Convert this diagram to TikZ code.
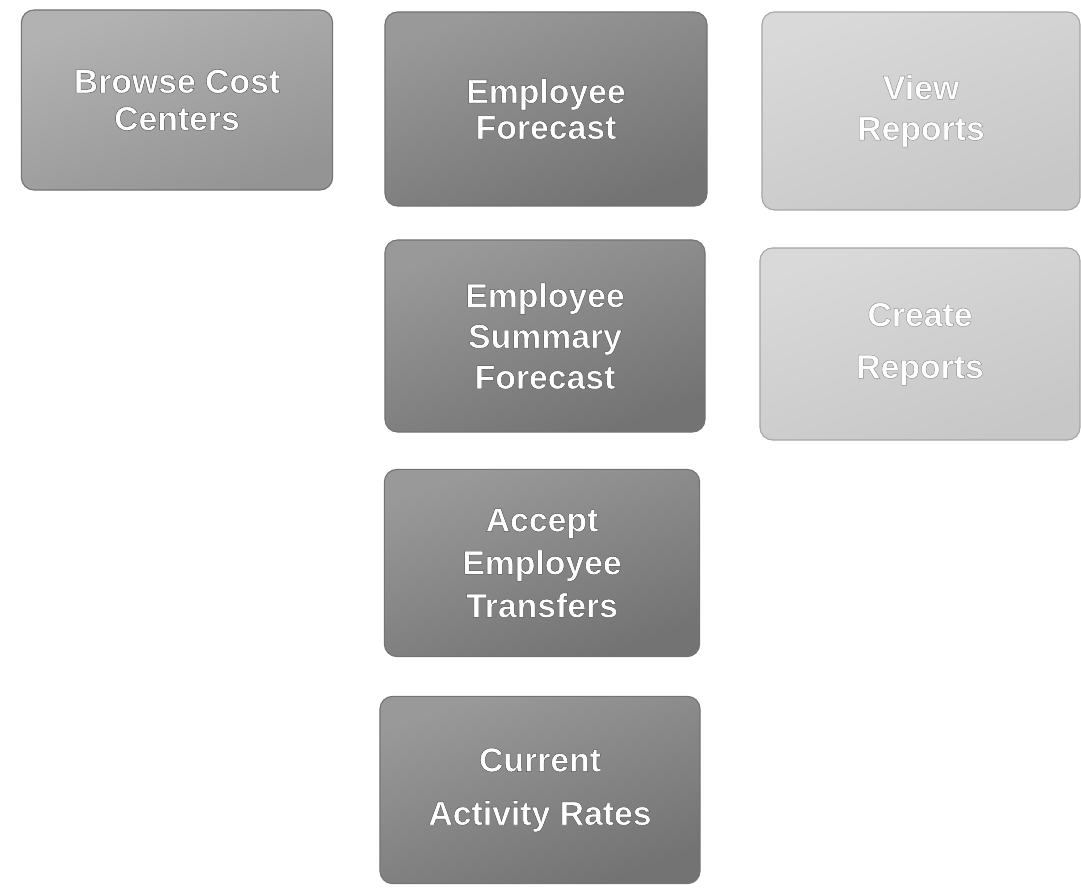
\documentclass[tikz,border=0pt]{standalone}
\usepackage{fontspec}
\setmainfont{Liberation Sans}
\usepackage{tikz}
\usetikzlibrary{positioning}
\tikzstyle{task} = [rounded corners=9pt,draw=black!55,line width=0.8pt,
  align=center,inner sep=0pt,text=white]
\tikzset{pitch/.style={font=\bfseries\fontsize{24}{#1}\selectfont}}
\tikzstyle{dark} = [task,top color=black!40,bottom color=black!55,shading angle=20]
\tikzstyle{mid} = [task,top color=black!30,bottom color=black!42,shading angle=20]
\tikzstyle{pale} = [task,top color=black!15,bottom color=black!22,shading angle=20,draw=black!35]
% outlined white letters (fill + stroke)
\newcommand{\lbl}[2][0.3]{\special{pdf:literal direct 2 Tr 0.3 w #1 G}#2\special{pdf:literal direct 0 Tr}}

\begin{document}
\begin{tikzpicture}[x=0.025cm,y=-0.025cm]
    \useasboundingbox (0,0) rectangle (1081,888);
    \node[mid,pitch=26.5,minimum width=7.78cm,minimum height=4.5cm] (browse) at (177,100) {\lbl{Browse Cost\\Centers}};
    \node[dark,pitch=25.5,minimum width=8.05cm,minimum height=4.85cm] (empfc) at (546,109) {\lbl{Employee\\Forecast}};
    \node[pale,pitch=29,minimum width=7.95cm,minimum height=4.95cm] (view) at (921,111) {\lbl[0.55]{View\\Reports}};
    \node[dark,pitch=29,minimum width=8cm,minimum height=4.8cm] (summary) at (545,336) {\lbl{Employee\\Summary\\Forecast}};
    \node[pale,pitch=37,minimum width=8cm,minimum height=4.8cm] (create) at (920,344) {\lbl[0.55]{Create\\Reports}};
    \node[dark,pitch=30.5,minimum width=7.88cm,minimum height=4.68cm] (accept) at (542,563) {\lbl{Accept\\Employee\\Transfers}};
    \node[dark,pitch=38,minimum width=8cm,minimum height=4.68cm] (rates) at (540,790) {\lbl{Current\\Activity Rates}};
\end{tikzpicture}
\end{document}
